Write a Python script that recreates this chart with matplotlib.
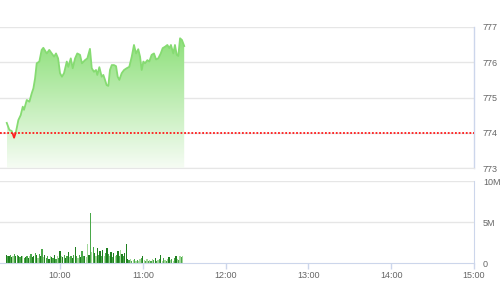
import numpy as np
from matplotlib import pyplot as plt
from matplotlib.patches import Polygon, Rectangle
from matplotlib.colors import to_rgb

plt.rcParams['font.family'] = ['Liberation Sans', 'DejaVu Sans']

# minutes after 09:00
price_min = [21.4, 23.3, 25.0, 26.7, 28.1, 29.8, 31.5, 33.0, 33.9, 35.9,
             37.8, 39.5, 40.7, 41.9, 43.1, 45.0, 46.7, 47.9, 50.4, 52.2,
             54.0, 55.7, 57.1, 58.6, 60.0, 61.4, 62.9, 64.9, 66.0, 67.8,
             69.2, 70.9, 72.5, 74.5, 75.9, 78.1, 79.8, 81.7, 83.0, 84.6,
             86.1, 87.0, 88.5, 90.2, 91.4, 92.6, 93.8, 95.0, 96.2, 97.5,
             99.1, 100.6, 101.8, 103.0, 104.7, 106.4, 108.3, 110.2, 112.0, 113.6,
             115.1, 116.7, 118.0, 119.2, 120.4, 121.6, 123.3, 124.7, 126.4, 128.1,
             129.6, 131.2, 133.0, 134.4, 136.1, 137.8, 139.2, 140.4, 142.1, 143.3,
             144.6, 145.7, 147.0, 148.4, 150.0]
price = [774.28, 774.08, 774.05, 773.86, 774.03, 774.36, 774.50, 774.74, 774.65, 774.93,
         774.88, 775.12, 775.26, 775.54, 775.97, 776.02, 776.35, 776.41, 776.25, 776.35,
         776.25, 776.16, 776.25, 776.11, 775.69, 775.59, 775.69, 776.02, 775.87, 776.11,
         775.83, 776.11, 776.25, 776.21, 775.97, 776.06, 776.11, 776.38, 775.83, 775.73,
         775.78, 775.64, 775.86, 775.59, 775.64, 775.50, 775.35, 775.33, 775.78, 775.92,
         775.92, 775.89, 775.59, 775.50, 775.69, 775.78, 775.83, 775.87, 776.16, 776.49,
         776.25, 776.37, 776.16, 775.78, 776.02, 775.97, 776.06, 776.02, 776.21, 776.25,
         776.08, 776.11, 776.25, 776.40, 776.44, 776.49, 776.40, 776.49, 776.25, 776.49,
         776.21, 776.18, 776.68, 776.63, 776.46]
ref_price = 774.0

vol_start = 21  # first volume bar, minutes after 09:00
volume_m = [1.0, 0.9, 0.8, 1.0, 0.7, 0.9, 1.1, 0.8, 1.0, 0.9,
            0.7, 0.9, 0.8, 0.6, 0.7, 0.9, 0.6, 0.8, 1.1, 0.7,
            0.9, 1.2, 1.0, 0.6, 1.1, 0.8, 1.7, 0.7, 1.0, 0.6,
            0.8, 0.5, 0.9, 0.7, 0.6, 1.0, 0.5, 0.8, 0.6, 1.5,
            0.9, 0.7, 1.0, 0.6, 0.8, 1.3, 0.7, 0.9, 0.6, 1.0,
            1.9, 0.8, 0.6, 1.0, 0.7, 1.5, 0.9, 0.8, 0.7, 2.3,
            1.0, 6.1, 1.3, 1.9, 1.2, 0.8, 1.8, 1.0, 1.5, 0.9,
            1.6, 0.8, 1.2, 1.8, 1.1, 0.9, 1.4, 0.7, 1.2, 0.9,
            1.0, 1.5, 0.8, 1.6, 1.1, 0.9, 1.2, 2.3, 0.5, 0.4,
            0.5, 0.3, 0.4, 0.5, 0.3, 0.4, 0.3, 0.5, 0.6, 0.8,
            0.4, 0.3, 0.5, 0.2, 0.4, 0.3, 0.5, 0.4, 0.6, 0.3,
            0.4, 0.5, 1.0, 0.3, 0.6, 0.4, 0.3, 0.5, 0.7, 0.4,
            0.5, 0.3, 0.6, 0.8, 0.5, 0.4, 0.9, 0.7, 0.8]
vol_side = ("dmdmdlmdmd" "mdlmdmdlmd" "dmdlmdmldm" "mdldmdmlmd" "ldmdmdlmdm"
            "dmlmdmmdll" "dmlmdldmdm" "dlmdmldmdl" "mdmldmdddm" "lmlmlmllmd"
            "lmlmlmlmdm" "lmdlmlmldl" "mlmdlmlml")

hour_ticks  = [60, 120, 180, 240, 300, 360]
hour_labels = ['10:00', '11:00', '12:00', '13:00', '14:00', '15:00']
price_ticks = [773, 774, 775, 776, 777]
vol_ticks   = [0, 5, 10]
vol_labels  = ['0', '5M', '10M']

side_colors = {'d': '#1f7f1f', 'm': '#4aa84a', 'l': '#a3d89a'}
grid_c  = '#e6e6e6'
axis_c  = '#ccd6eb'
text_c  = '#666666'
line_c  = '#86db72'
x_lim   = (16.5, 360)

fig = plt.figure(figsize=(5.01, 3.0), dpi=100)
ax  = fig.add_axes([0.0, 0.44, 0.946, 0.47])
axv = fig.add_axes([0.0, 0.1233, 0.946, 0.2733])

#############################################################################
# price panel
t = np.array(price_min)
p = np.array(price)

for yv in price_ticks:
  ax.axhline(yv, color=grid_c, linewidth=1.0, zorder=0)

top_rgb = np.array(to_rgb('#8ee07b'))
bot_rgb = np.array(to_rgb('#f6fcf4'))
frac = np.linspace(0, 1, 256)[:, None]
grad = bot_rgb[None, :] * (1 - frac) + top_rgb[None, :] * frac
img = ax.imshow(grad[:, None, :], extent=[t[0], t[-1], price_ticks[0], p.max()],
                aspect='auto', origin='lower', zorder=1, interpolation='bilinear')
verts = [(t[0], price_ticks[0])] + list(zip(t, p)) + [(t[-1], price_ticks[0])]
poly = Polygon(verts, closed=True, facecolor='none', edgecolor='none')
ax.add_patch(poly)
img.set_clip_path(poly)
ax.set_xlim(*x_lim)
ax.set_ylim(price_ticks[0], price_ticks[-1])

up, = ax.plot(t, p, color=line_c, linewidth=1.3, zorder=3)
dn, = ax.plot(t, p, color='#ff2020', linewidth=1.3, zorder=3)
clip_up = Rectangle((x_lim[0], ref_price), x_lim[1] - x_lim[0], 10, transform=ax.transData)
clip_dn = Rectangle((x_lim[0], ref_price - 10), x_lim[1] - x_lim[0], 10, transform=ax.transData)
up.set_clip_path(clip_up)
dn.set_clip_path(clip_dn)

ax.axhline(ref_price, color='#ff1a1a', linewidth=1.3, linestyle=(0, (1, 1)), zorder=4)

ax.yaxis.tick_right()
ax.set_yticks(price_ticks)
ax.tick_params(axis='y', length=0, pad=6.5, labelsize=6.5, labelcolor=text_c)
for lab in ax.get_yticklabels():
  lab.set_horizontalalignment('left')
ax.set_xticks([])
for s in ['top', 'left']:
  ax.spines[s].set_visible(False)
ax.spines['bottom'].set_color(grid_c)
ax.spines['right'].set_color(axis_c)
ax.spines['right'].set_linewidth(1.0)

#############################################################################
# volume panel
vt = vol_start + np.arange(len(volume_m))
vc = [side_colors[c] for c in vol_side]
axv.set_xlim(*x_lim)
axv.set_ylim(0, 10)
for yv in vol_ticks[1:]:
  axv.axhline(yv, color=grid_c, linewidth=1.0, zorder=0)
axv.bar(vt, volume_m, width=0.9, color=vc, linewidth=0, zorder=2)

axv.yaxis.tick_right()
axv.set_yticks(vol_ticks)
axv.set_yticklabels(vol_labels)
axv.tick_params(axis='y', length=0, pad=6.5, labelsize=6.5, labelcolor=text_c)
for lab in axv.get_yticklabels():
  lab.set_horizontalalignment('left')
axv.set_xticks(hour_ticks)
axv.set_xticklabels(hour_labels)
axv.tick_params(axis='x', length=4, width=1, color=axis_c, labelsize=6.5,
                labelcolor=text_c, pad=2)
for s in ['top', 'left']:
  axv.spines[s].set_visible(False)
axv.spines['bottom'].set_color(axis_c)
axv.spines['right'].set_color(axis_c)

fig.savefig('out.png', dpi=100)
